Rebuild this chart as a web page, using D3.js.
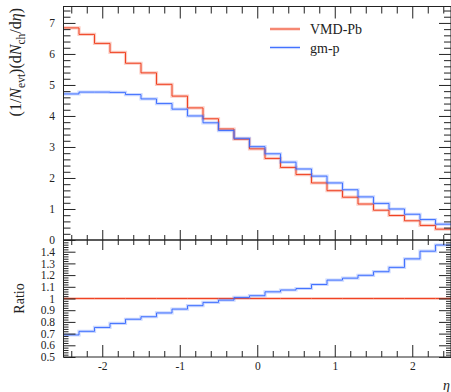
<!DOCTYPE html>
<html lang="en">
<head>
  <meta charset="UTF-8">
  <title>dN/deta ratio</title>
  <script src="https://cdn.jsdelivr.net/npm/d3@7"></script>
  <style>
    body { margin: 0; background: #fff; }
    text { font-family: "Liberation Serif", "DejaVu Serif", serif; fill: #222; }
  </style>
</head>
<body>
  <svg width="451" height="392"></svg>
  <script>
    // bin edges in eta
    var edges = [-2.5, -2.3, -2.1, -1.9, -1.7, -1.5, -1.3, -1.1, -0.9, -0.7, -0.5, -0.3, -0.1,
                 0.1, 0.3, 0.5, 0.7, 0.9, 1.1, 1.3, 1.5, 1.7, 1.9, 2.1, 2.3, 2.5];
    var vmdPb = [6.84, 6.63, 6.34, 6.05, 5.70, 5.39, 5.02, 4.64, 4.26, 3.91, 3.58, 3.25, 2.94,
                 2.63, 2.34, 2.11, 1.84, 1.59, 1.38, 1.16, 0.96, 0.79, 0.62, 0.47, 0.35];
    var gmP = [4.71, 4.77, 4.77, 4.76, 4.69, 4.55, 4.40, 4.22, 4.00, 3.78, 3.53, 3.28, 3.01,
               2.78, 2.51, 2.29, 2.06, 1.84, 1.62, 1.39, 1.18, 1.00, 0.83, 0.66, 0.51];
    var topTicks = [0, 1, 2, 3, 4, 5, 6, 7];
    var ratioTicks = [0.5, 0.6, 0.7, 0.8, 0.9, 1, 1.1, 1.2, 1.3, 1.4];
    var xTicks = [-2, -1, 0, 1, 2];

    var series = [
      {name: 'VMD-Pb', values: vmdPb, color: '#ee3311'},
      {name: 'gm-p', values: gmP, color: '#3366ff'}
    ];
    var ref = series[0].values;
    series.forEach(function(s) {
      s.ratio = s.values.map(function(v, i) { return v / ref[i]; });
    });

    var svg = d3.select('svg');
    var pLeft = 63.5, pRight = 451, pTop = 6.5, pMid = 240, pBottom = 357;

    var x = d3.scaleLinear().domain([-2.5, 2.5]).range([pLeft, pRight]);
    var yTop = d3.scaleLinear().domain([0, 7.53]).range([pMid, pTop]);
    var yRat = d3.scaleLinear().domain([0.5, 1.5]).range([pBottom, pMid]);

    var defs = svg.append('defs');
    defs.append('clipPath').attr('id', 'clipTop').append('rect')
      .attr('x', pLeft).attr('y', pTop).attr('width', pRight - pLeft).attr('height', pMid - pTop);
    defs.append('clipPath').attr('id', 'clipRat').append('rect')
      .attr('x', pLeft).attr('y', pMid).attr('width', pRight - pLeft).attr('height', pBottom - pMid);

    function stepPts(vals) {
      var pts = vals.map(function(v, i) { return [edges[i], v]; });
      pts.push([edges[edges.length - 1], vals[vals.length - 1]]);
      return pts;
    }

    function drawSteps(g, vals, yScale, color) {
      var line = d3.line()
        .x(function(d) { return x(d[0]); })
        .y(function(d) { return yScale(d[1]); })
        .curve(d3.curveStepAfter);
      g.append('path').attr('d', line(stepPts(vals)))
        .attr('fill', 'none').attr('stroke', color).attr('stroke-opacity', 0.25)
        .attr('stroke-width', 3.2);
      g.append('path').attr('d', line(stepPts(vals)))
        .attr('fill', 'none').attr('stroke', color).attr('stroke-width', 0.9);
    }

    var gTop = svg.append('g').attr('clip-path', 'url(#clipTop)');
    var gRat = svg.append('g').attr('clip-path', 'url(#clipRat)');
    series.forEach(function(s) {
      drawSteps(gTop, s.values, yTop, s.color);
      drawSteps(gRat, s.ratio, yRat, s.color);
    });

    // minor tick values
    function minors(lo, hi, step, majors) {
      var out = [];
      var n = Math.round((hi - lo) / step);
      for (var i = 0; i <= n; i++) {
        var v = +(lo + i * step).toFixed(4);
        if (majors.indexOf(v) < 0) out.push(v);
      }
      return out;
    }
    var xMinor = minors(-2.4, 2.4, 0.2, xTicks);
    var topMinor = minors(0.2, 7.4, 0.2, topTicks);
    var ratMinor = minors(0.52, 1.48, 0.02, ratioTicks);

    function addAxis(axisFn, scale, vals, size, tx, ty, labels, pad, fmt) {
      var ax = axisFn(scale).tickValues(vals).tickSizeInner(size).tickSizeOuter(0)
        .tickPadding(pad || 0)
        .tickFormat(labels ? fmt : function() { return ''; });
      var g = svg.append('g').attr('transform', 'translate(' + tx + ',' + ty + ')').call(ax);
      g.select('.domain').remove();
      g.selectAll('line').attr('stroke', '#222').attr('stroke-width', 1);
      g.selectAll('text').attr('font-family', '"Liberation Serif", serif')
        .attr('font-size', 11.5).attr('fill', '#222');
      if (!labels) g.selectAll('text').remove();
      return g;
    }
    var numFmt = function(d) { return d < 0 ? '-' + (-d) : String(d); };

    // x axes: top frame, shared middle, bottom
    addAxis(d3.axisBottom, x, xTicks, 12, 0, pTop);
    addAxis(d3.axisBottom, x, xMinor, 7, 0, pTop);
    addAxis(d3.axisTop, x, xTicks, 10, 0, pMid);
    addAxis(d3.axisTop, x, xMinor, 5, 0, pMid);
    addAxis(d3.axisBottom, x, xTicks, 10, 0, pMid);
    addAxis(d3.axisBottom, x, xMinor, 5, 0, pMid);
    addAxis(d3.axisBottom, x, xTicks, -12, 0, pBottom, true, 5, numFmt);
    addAxis(d3.axisBottom, x, xMinor, -6, 0, pBottom);

    // y axes, top panel
    addAxis(d3.axisLeft, yTop, topTicks, -12, pLeft, 0, true, 8.5, numFmt);
    addAxis(d3.axisLeft, yTop, topMinor, -7, pLeft, 0);
    addAxis(d3.axisRight, yTop, topTicks, -12, pRight, 0);
    addAxis(d3.axisRight, yTop, topMinor, -7, pRight, 0);

    // y axes, ratio panel
    addAxis(d3.axisLeft, yRat, ratioTicks, -12, pLeft, 0, true, 8.5, numFmt);
    addAxis(d3.axisLeft, yRat, ratMinor, -5, pLeft, 0);
    addAxis(d3.axisRight, yRat, ratioTicks, -12, pRight, 0);
    addAxis(d3.axisRight, yRat, ratMinor, -5, pRight, 0);

    // frames
    svg.append('rect').attr('x', pLeft).attr('y', pTop).attr('width', pRight - pLeft)
      .attr('height', pMid - pTop).attr('fill', 'none').attr('stroke', '#222');
    svg.append('rect').attr('x', pLeft).attr('y', pMid).attr('width', pRight - pLeft)
      .attr('height', pBottom - pMid).attr('fill', 'none').attr('stroke', '#222');

    // legend
    var leg = svg.append('g').attr('transform', 'translate(270,29)');
    series.forEach(function(s, i) {
      var row = leg.append('g').attr('transform', 'translate(0,' + (i * 18.5) + ')');
      row.append('line').attr('x1', 0).attr('x2', 30)
        .attr('stroke', s.color).attr('stroke-opacity', 0.25).attr('stroke-width', 3.2);
      row.append('line').attr('x1', 0).attr('x2', 30)
        .attr('stroke', s.color).attr('stroke-width', 0.9);
      row.append('text').attr('x', 40).attr('y', 5).attr('font-size', 14).text(s.name);
    });

    // axis titles
    var yl = svg.append('text')
      .attr('transform', 'translate(21,8) rotate(-90)')
      .attr('text-anchor', 'end').attr('font-size', 16);
    yl.append('tspan').text('(1/');
    yl.append('tspan').attr('font-style', 'italic').text('N');
    yl.append('tspan').attr('font-size', 11.5).attr('dy', 3.5).text('evt');
    yl.append('tspan').attr('dy', -3.5).text(')(d');
    yl.append('tspan').attr('font-style', 'italic').text('N');
    yl.append('tspan').attr('font-size', 11.5).attr('dy', 3.5).text('ch');
    yl.append('tspan').attr('dy', -3.5).text('/d');
    yl.append('tspan').attr('font-style', 'italic').text('η');
    yl.append('tspan').text(')');

    svg.append('text').attr('transform', 'translate(24,298.5) rotate(-90)')
      .attr('text-anchor', 'middle').attr('font-size', 14).text('Ratio');

    svg.append('text').attr('x', 450).attr('y', 390).attr('text-anchor', 'end')
      .attr('font-size', 14).attr('font-style', 'italic').text('η');
  </script>
</body>
</html>
